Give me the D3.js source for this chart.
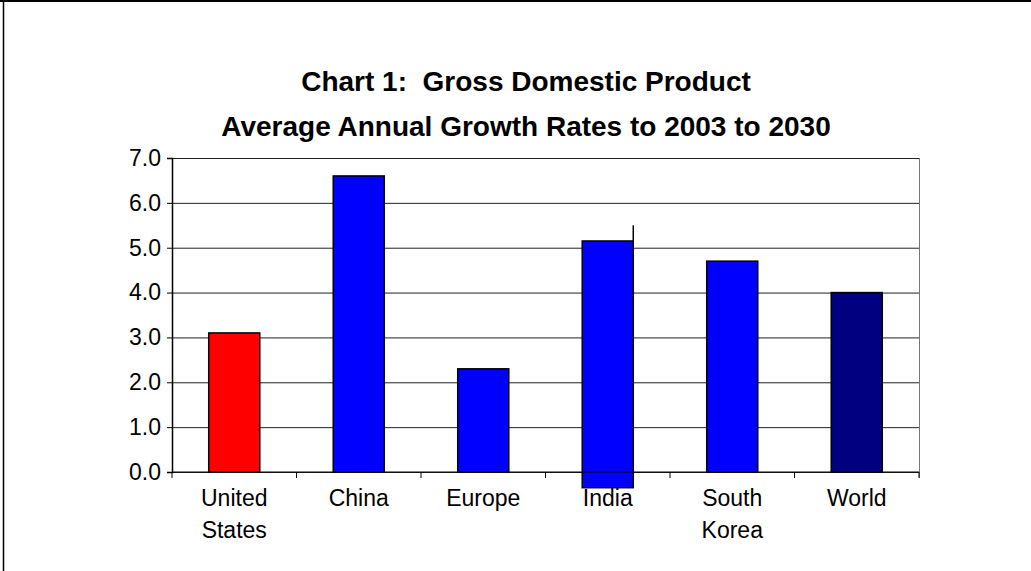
<!DOCTYPE html>
<html>
<head>
<meta charset="utf-8">
<script src="https://cdn.jsdelivr.net/npm/d3@7"></script>
<style>
  body { margin: 0; background: #fff; }
  svg { display: block; font-family: "Liberation Sans", Arial, sans-serif; }
</style>
</head>
<body>
<div id="chart"></div>
<script>
// data
var categories = [["United", "States"], ["China"], ["Europe"], ["India"], ["South", "Korea"], ["World"]]
var values = [3.1, 6.6, 2.3, 5.15, 4.7, 4.0]
var barColors = ["#ff0000", "#0000ff", "#0000ff", "#0000ff", "#0000ff", "#000080"]
var yTicks = [0, 1, 2, 3, 4, 5, 6, 7]
// India's bar in the source runs below the axis and has a stray mark above it
var indiaLow = -0.35
var indiaMark = [5.15, 5.5]
var titles = ["Chart 1:  Gross Domestic Product", "Average Annual Growth Rates to 2003 to 2030"]

var width = 1031, height = 571
var margin = { top: 158, right: 112, bottom: 99, left: 172 }

var svg = d3.select("#chart")
  .append("svg")
  .attr("width", width)
  .attr("height", height)

// outer frame (top and left edges only show)
svg.append("line")
  .attr("x1", 0).attr("x2", width)
  .attr("y1", 1).attr("y2", 1)
  .attr("stroke", "#000").attr("stroke-width", 2)
svg.append("line")
  .attr("x1", 3.5).attr("x2", 3.5)
  .attr("y1", 0).attr("y2", height)
  .attr("stroke", "#000").attr("stroke-width", 1.5)

// titles
svg.selectAll(".title")
  .data(titles)
  .enter()
  .append("text")
  .attr("class", "title")
  .attr("x", 526)
  .attr("y", (d, i) => 91 + i * 45)
  .attr("text-anchor", "middle")
  .style("font-size", "28px")
  .style("font-weight", "bold")
  .style("white-space", "pre")
  .text(d => d)

var xScale = d3.scaleBand()
  .domain(d3.range(categories.length))
  .range([margin.left, width - margin.right])
  .paddingInner(0.59)
  .paddingOuter(0.295)

var xBand = d3.scaleBand()
  .domain(d3.range(categories.length))
  .range([margin.left, width - margin.right])

var yScale = d3.scaleLinear()
  .domain([0, 7])
  .range([height - margin.bottom, margin.top])

// gridlines
var yGrid = d3.axisLeft(yScale)
  .tickValues(yTicks)
  .tickSize(-(width - margin.left - margin.right))
  .tickFormat("")

svg.append("g")
  .attr("class", "grid")
  .attr("transform", `translate(${margin.left},0)`)
  .call(yGrid)
  .call(g => g.select(".domain").remove())
  .selectAll("line")
  .attr("stroke", "#222")

// right edge of plot
svg.append("line")
  .attr("x1", width - margin.right + 0.5).attr("x2", width - margin.right + 0.5)
  .attr("y1", margin.top).attr("y2", height - margin.bottom + 6)
  .attr("stroke", "#777")

// bars
svg.append("g")
  .selectAll("rect")
  .data(values)
  .enter()
  .append("rect")
  .attr("x", (d, i) => xScale(i))
  .attr("y", d => yScale(d))
  .attr("width", xScale.bandwidth())
  .attr("height", (d, i) => (i === 3 ? yScale(indiaLow) : yScale(0)) - yScale(d))
  .attr("fill", (d, i) => barColors[i])
  .attr("stroke", "#000")
  .attr("stroke-width", 1.5)

// stray mark above India
svg.append("line")
  .attr("x1", xScale(3) + xScale.bandwidth()).attr("x2", xScale(3) + xScale.bandwidth())
  .attr("y1", yScale(indiaMark[1])).attr("y2", yScale(indiaMark[0]))
  .attr("stroke", "#000").attr("stroke-width", 1.5)

// x axis line redrawn on top
svg.append("line")
  .attr("x1", margin.left).attr("x2", width - margin.right)
  .attr("y1", yScale(0)).attr("y2", yScale(0))
  .attr("stroke", "#000")

// category tick marks
svg.append("g")
  .selectAll("line")
  .data(d3.range(categories.length + 1))
  .enter()
  .append("line")
  .attr("x1", i => i < categories.length ? xBand(i) : width - margin.right)
  .attr("x2", i => i < categories.length ? xBand(i) : width - margin.right)
  .attr("y1", yScale(0)).attr("y2", yScale(0) + 6)
  .attr("stroke", "#000")

// Y axis
var yAxis = d3.axisLeft(yScale)
  .tickValues(yTicks)
  .tickSize(5)
  .tickPadding(6)
  .tickFormat(d3.format(".1f"))

svg.append("g")
  .attr("class", "y-axis")
  .attr("transform", `translate(${margin.left},0)`)
  .call(yAxis)
  .call(g => g.select(".domain").attr("stroke-width", 1.5))
  .selectAll("text")
  .style("font-size", "23px")
  .style("font-family", "Liberation Sans, Arial, sans-serif")
  .attr("fill", "#000")

// category labels
var labels = svg.append("g")
  .selectAll("text")
  .data(categories)
  .enter()
  .append("text")
  .attr("x", (d, i) => xBand(i) + xBand.bandwidth() / 2)
  .attr("y", yScale(0) + 34)
  .attr("text-anchor", "middle")
  .style("font-size", "23px")

labels.selectAll("tspan")
  .data(d => d)
  .enter()
  .append("tspan")
  .attr("x", function() { return d3.select(this.parentNode).attr("x") })
  .attr("dy", (d, i) => i === 0 ? 0 : 32)
  .text(d => d)
</script>
</body>
</html>
